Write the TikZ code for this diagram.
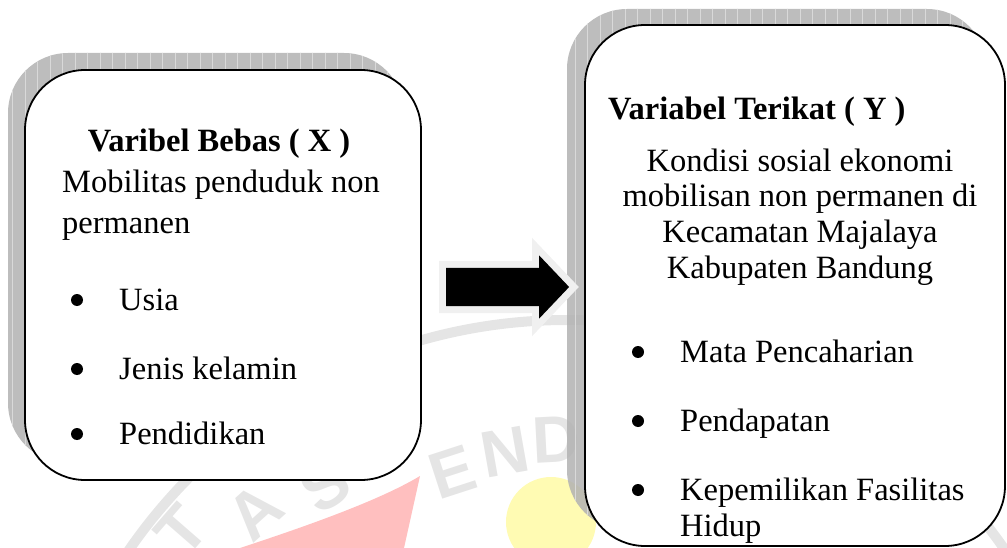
\documentclass[tikz,border=0pt]{standalone}
\usepackage{fontspec}
\setmainfont{Liberation Serif}
\newfontfamily\markfont{Liberation Sans}
\usepackage{tikz}
\usetikzlibrary{shapes.arrows,positioning}

\begin{document}
\begin{tikzpicture}[x=1pt,y=-1pt,
    txt/.style={inner sep=0pt,font=\fontsize{32.5}{36}\selectfont},
    dot/.style={circle,fill=black,inner sep=0pt,minimum size=12pt},
    item/.style={txt,anchor=base west},
    wmletter/.style={inner sep=0pt,text=gray!20,font=\markfont\bfseries\fontsize{66}{66}\selectfont},
    varbox/.style={draw=black,line width=1.8pt,fill=white,rounded corners=60pt}]
  \useasboundingbox (0,0) rectangle (1007,548);
  % watermark
  \fill[red!25] (420,476) -- (404,548) -- (240,548) .. controls (310,525) and (380,500) .. cycle;
  \fill[yellow!30] (551,522) circle (45);
  \draw[gray!20,line width=10pt] (567,852) circle (532);
  \node[wmletter,rotate=49] (wmT) at (182,530) {T};
  \node[wmletter,rotate=42] (wmA) at (255,512) {A};
  \node[wmletter,rotate=34] (wmS) at (325,485) {S};
  \node[wmletter,rotate=18] (wmE) at (452,472) {E};
  \node[wmletter,rotate=10] (wmN) at (505,452) {N};
  \node[wmletter,rotate=3] (wmD) at (556,440) {D};
  % shadows
  \foreach \ax/\ay/\bx/\by in {8/53/404/463, 567/9/987/530} {
    \fill[gray!60,opacity=0.85,rounded corners=60pt] (\ax,\ay) rectangle (\bx,\by);
    \begin{scope}
      \clip[rounded corners=60pt] (\ax,\ay) rectangle (\bx,\by);
      \draw[gray!30,line width=0.8pt] (0,0) grid[step=12.5] (1007,548);
    \end{scope}
  }
  % boxes
  \node[varbox,minimum width=396pt,minimum height=410pt] (bebas) at (223,275) {};
  \node[varbox,minimum width=420pt,minimum height=521pt] (terikat) at (795,285.5) {};
  % left box text
  \node[txt,anchor=base] (bebastitle) at (219,152) {\bfseries Varibel Bebas ( X )};
  \node[item] (mob1) at (62,193) {Mobilitas penduduk non};
  \node[item] (mob2) at (62,234) {permanen};
  \foreach \y/\t/\n in {310/Usia/usia, 379/Jenis kelamin/jenis, 444/Pendidikan/didik} {
    \node[dot] (dot\n) at (77,\y-10) {};
    \node[item] (\n) at (119,\y) {\t};
  }
  % right box text
  \node[item] (terikattitle) at (608,120) {\bfseries Variabel Terikat ( Y )};
  \foreach \y/\t/\n in {172/Kondisi sosial ekonomi/kon1, 207/mobilisan non permanen di/kon2,
                        243/Kecamatan Majalaya/kon3, 278/Kabupaten Bandung/kon4}
    \node[txt,anchor=base] (\n) at (800,\y) {\t};
  \foreach \y/\t/\n in {362/Mata Pencaharian/mata, 431/Pendapatan/dapat, 500/Kepemilikan Fasilitas/milik} {
    \node[dot] (dot\n) at (638,\y-10) {};
    \node[item] (\n) at (680,\y) {\t};
  }
  \node[item] (hidup) at (680,536) {Hidup};
  % block arrow
  \node[single arrow,fill=black,inner xsep=0pt,inner ysep=19pt,minimum height=123pt,
        single arrow head extend=12.5pt,single arrow tip angle=93,
        preaction={draw=gray!12,line width=14pt}] (flow) at (498.5,287) {};
\end{tikzpicture}
\end{document}
